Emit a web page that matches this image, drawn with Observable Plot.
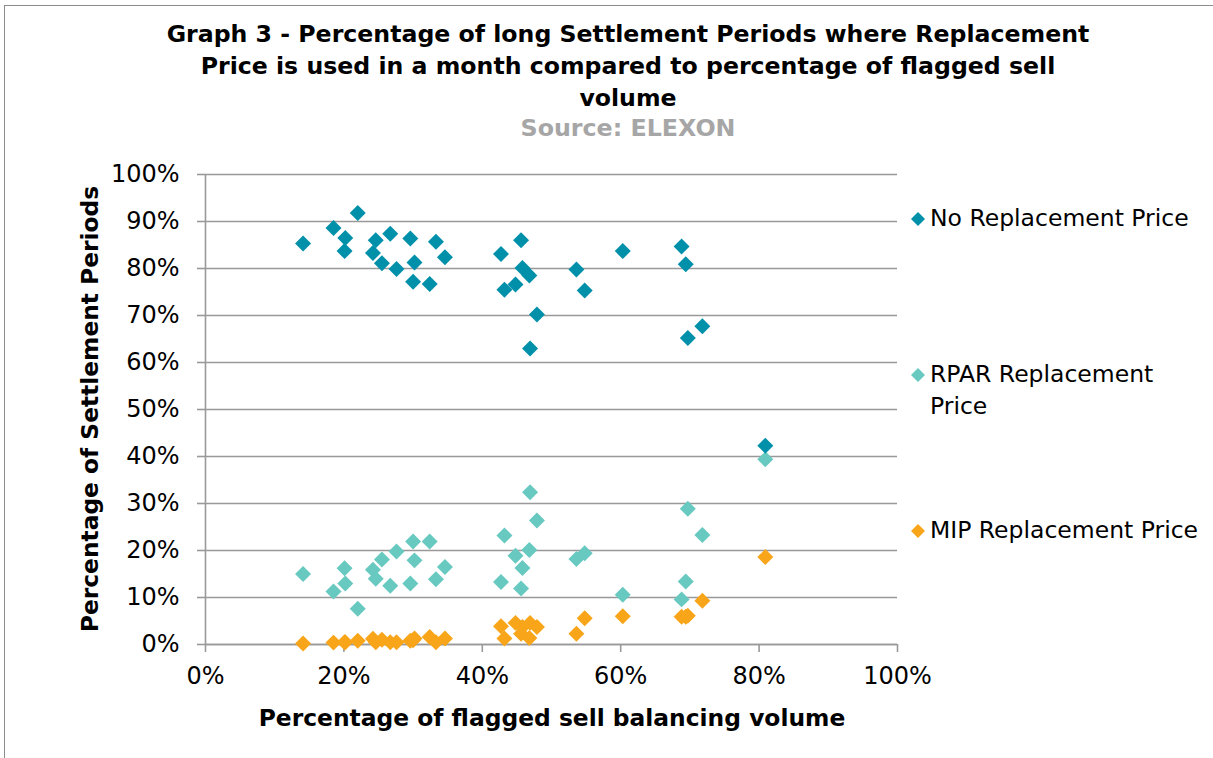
<!DOCTYPE html>
<html>
<head>
<meta charset="utf-8">
<script src="https://cdn.jsdelivr.net/npm/d3@7"></script>
<script src="https://cdn.jsdelivr.net/npm/@observablehq/plot@0.6"></script>
<style>
  html, body { margin: 0; padding: 0; background: #fff; }
  #wrap { position: relative; width: 1213px; height: 758px; overflow: hidden; font-family: "DejaVu Sans", sans-serif; }
  #frame { position: absolute; left: 4px; top: 5px; width: 1300px; height: 900px; border: 1.5px solid #8c8c8c; box-sizing: border-box; }
  .bold { font-family: "DejaVu Sans", sans-serif; font-weight: bold; white-space: nowrap; }
  .center { position: absolute; left: 128px; width: 1000px; text-align: center; line-height: 32px; }
  .fit { display: inline-block; }
  #ylabel { position: absolute; left: 90px; top: 409px; transform: translate(-50%, -50%) rotate(-90deg); white-space: nowrap; color: #000; }
  #xlabel { position: absolute; left: 552px; top: 718px; transform: translate(-50%, -50%); white-space: nowrap; color: #000; }
  #chart { position: absolute; left: 0; top: 0; }
  .leg { position: absolute; left: 930px; font-size: 23.5px; line-height: 32px; color: #000; white-space: nowrap; }
  .legsym { position: absolute; left: 911px; width: 14px; height: 14px; }
</style>
</head>
<body>
<div id="wrap">
  <div id="frame"></div>
  <div id="chart"></div>
  <div class="center bold" style="top:18px;color:#000"><span class="fit t1" data-w="923">Graph 3 - Percentage of long Settlement Periods where Replacement</span></div>
  <div class="center bold" style="top:50px;color:#000"><span class="fit t1">Price is used in a month compared to percentage of flagged sell</span></div>
  <div class="center bold" style="top:82px;color:#000"><span class="fit t1">volume</span></div>
  <div class="center bold" style="top:112px;color:#a6a6a6"><span class="fit" data-w="215">Source: ELEXON</span></div>
  <div id="ylabel" class="bold"><span class="fit" data-w="447">Percentage of Settlement Periods</span></div>
  <div id="xlabel" class="bold"><span class="fit" data-w="587">Percentage of flagged sell balancing volume</span></div>
  <div id="legend"></div>
</div>
<script>
// Percentage of flagged sell balancing volume (per month)
const flaggedSell = [14.1, 18.5, 20.1, 20.2, 22.0, 24.2, 24.6, 25.5, 26.7, 27.6, 29.6, 30.0, 30.2, 32.4, 33.3, 34.6,
  42.7, 43.2, 44.8, 45.6, 45.8, 46.8, 46.9, 47.9, 53.6, 54.8, 60.3, 68.8, 69.4, 69.7, 71.8, 80.9];
const noReplacement = [85.3, 88.6, 83.7, 86.5, 91.8, 83.3, 86.0, 81.1, 87.4, 79.9, 86.4, 77.2, 81.3, 76.7, 85.7, 82.4,
  83.1, 75.5, 76.6, 86.0, 80.1, 78.5, 63.0, 70.2, 79.8, 75.3, 83.7, 84.7, 80.9, 65.2, 67.7, 42.3];
const rparReplacement = [15.0, 11.3, 16.2, 13.0, 7.6, 15.9, 14.0, 18.1, 12.5, 19.8, 13.0, 21.9, 17.9, 21.9, 13.9, 16.5,
  13.3, 23.2, 18.9, 11.9, 16.3, 20.1, 32.4, 26.4, 18.2, 19.4, 10.6, 9.6, 13.4, 28.9, 23.3, 39.4];
const mipReplacement = [0.2, 0.4, 0.5, 0.5, 0.8, 1.2, 0.5, 1.0, 0.5, 0.5, 0.8, 0.9, 1.3, 1.6, 0.5, 1.3,
  3.9, 1.3, 4.6, 2.3, 3.7, 1.4, 4.6, 3.7, 2.3, 5.6, 6.0, 5.9, 5.9, 6.1, 9.3, 18.6];

const seriesNames = ["No Replacement Price", "RPAR Replacement Price", "MIP Replacement Price"];
const seriesColors = ["#0090a9", "#68c9c1", "#f8a51a"];
const seriesValues = [noReplacement, rparReplacement, mipReplacement];

const xTicks = [0, 20, 40, 60, 80, 100];
const yTicks = [0, 10, 20, 30, 40, 50, 60, 70, 80, 90, 100];

const rows = [];
// draw MIP first, then RPAR, then No Replacement on top
[2, 1, 0].forEach(s => {
  flaggedSell.forEach((x, i) => rows.push({ series: seriesNames[s], x, y: seriesValues[s][i] }));
});

const chart = Plot.plot({
  width: 1213,
  height: 758,
  marginLeft: 205,
  marginRight: 316,
  marginTop: 174,
  marginBottom: 114,
  style: { fontFamily: "DejaVu Sans, sans-serif", fontSize: "24px", color: "#000", background: "transparent" },
  x: { domain: [0, 100] },
  y: { domain: [0, 100] },
  color: { domain: seriesNames, range: seriesColors },
  marks: [
    Plot.gridY(yTicks, { stroke: "#999", strokeOpacity: 1, strokeWidth: 1.6 }),
    Plot.ruleX([0], { stroke: "#999", strokeWidth: 1.6 }),
    Plot.ruleY([0], { stroke: "#999", strokeWidth: 1.6 }),
    Plot.axisY({ ticks: yTicks, tickSize: 8, tickPadding: 18, tickFormat: d => d + "%", stroke: "#999", strokeWidth: 1.6, label: null, fill: "#000" }),
    Plot.axisX({ ticks: xTicks, tickSize: 8, tickPadding: 14, tickFormat: d => d + "%", stroke: "#999", strokeWidth: 1.6, label: null, fill: "#000" }),
    Plot.dot(rows, { x: "x", y: "y", fill: "series", symbol: "diamond2", r: 7.2, stroke: null })
  ]
});
document.getElementById("chart").appendChild(chart);

// fit bold text widths to the reference text widths
const base = 20;
let titleSize = null;
document.querySelectorAll(".fit").forEach(el => {
  el.style.fontSize = base + "px";
});
document.querySelectorAll(".fit[data-w]").forEach(el => {
  const w = el.getBoundingClientRect().width;
  const isRot = el.parentElement.id === "ylabel";
  const measured = isRot ? el.offsetWidth : w;
  const size = base * (+el.dataset.w) / measured;
  el.style.fontSize = size + "px";
  if (el.classList.contains("t1")) titleSize = size;
});
document.querySelectorAll(".t1").forEach(el => { el.style.fontSize = titleSize + "px"; });

// legend
const legendTops = [[202], [358, 390], [514]];
const legendLines = [["No Replacement Price"], ["RPAR Replacement", "Price"], ["MIP Replacement Price"]];
const legend = document.getElementById("legend");
seriesNames.forEach((name, s) => {
  const sym = document.createElement("div");
  sym.className = "legsym";
  sym.style.top = (legendTops[s][0] + 9) + "px";
  sym.innerHTML = `<svg width="14" height="14"><path d="M7,0L14,7L7,14L0,7Z" fill="${seriesColors[s]}"/></svg>`;
  legend.appendChild(sym);
  legendLines[s].forEach((line, k) => {
    const t = document.createElement("div");
    t.className = "leg";
    t.style.top = legendTops[s][k] + "px";
    t.textContent = line;
    legend.appendChild(t);
  });
});
</script>
</body>
</html>
